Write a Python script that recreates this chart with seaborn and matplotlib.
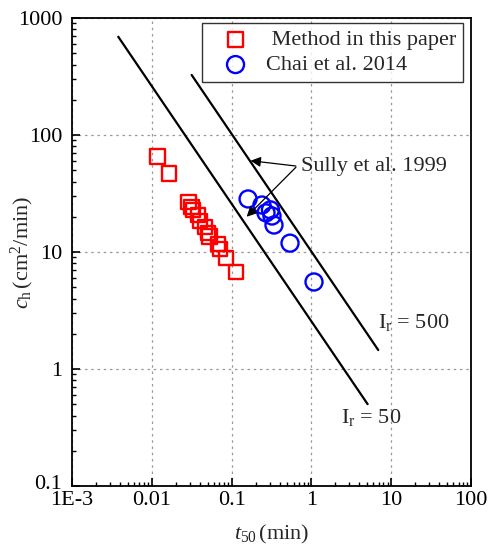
import matplotlib
matplotlib.use("Agg")
import matplotlib.pyplot as plt
import matplotlib.transforms as mtransforms
import seaborn as sns
import numpy as np
import pandas as pd
from matplotlib.ticker import FixedLocator, LogLocator, NullFormatter

# ---- data ----
method_t50 = [0.0117, 0.0164, 0.0288, 0.0314, 0.0328, 0.0379, 0.0402, 0.0464,
              0.0505, 0.0530, 0.0676, 0.0713, 0.0851, 0.1135]
method_ch = [65.3, 47.0, 26.7, 24.2, 22.9, 20.7, 18.4, 16.4,
             14.5, 13.6, 11.7, 10.6, 8.9, 6.75]
chai_t50 = [0.161, 0.240, 0.270, 0.307, 0.321, 0.340, 0.540, 1.079]
chai_ch = [28.4, 25.2, 21.6, 22.9, 20.3, 17.0, 11.9, 5.54]

sully50_t50 = [0.0038, 5.07]
sully50_ch = [692, 0.50]
sully500_t50 = [0.0316, 6.89]
sully500_ch = [326, 1.45]

xticks = [1e-3, 1e-2, 1e-1, 1, 10, 100]
xticklabels = ["1E-3", "0.01", "0.1", "1", "10", "100"]
yticks = [0.1, 1, 10, 100, 1000]
yticklabels = ["0.1", "1", "10", "100", "1000"]

FS = 16

# ---- style ----
sns.set_style("white")
plt.rcParams['font.family'] = ['Liberation Serif', 'DejaVu Serif']
plt.rcParams['mathtext.fontset'] = 'custom'
plt.rcParams['mathtext.rm'] = 'Liberation Serif'
plt.rcParams['mathtext.it'] = 'Liberation Serif:italic'
plt.rcParams['font.size'] = FS

fig = plt.figure(figsize=(4.94, 5.46), dpi=100)
ax = fig.add_axes([0.1457, 0.110, 0.8077, 0.857])

ax.set_xscale('log')
ax.set_yscale('log')
ax.set_xlim(1e-3, 100)
ax.set_ylim(0.1, 1000)

ax.grid(True, which='major', linestyle=(0, (2, 3)), color='#999999', linewidth=0.9)
ax.set_axisbelow(True)

df_m = pd.DataFrame({"t50": method_t50, "ch": method_ch})
df_c = pd.DataFrame({"t50": chai_t50, "ch": chai_ch})
df_l1 = pd.DataFrame({"t50": sully50_t50, "ch": sully50_ch})
df_l2 = pd.DataFrame({"t50": sully500_t50, "ch": sully500_ch})

sns.lineplot(data=df_l1, x="t50", y="ch", ax=ax, color='black', lw=1.6, legend=False)
sns.lineplot(data=df_l2, x="t50", y="ch", ax=ax, color='black', lw=1.6, legend=False)

sns.scatterplot(data=df_m, x="t50", y="ch", ax=ax, marker='s', s=110,
                facecolor='white', edgecolor='red', linewidth=1.7,
                label=' Method in this paper', zorder=3)
sns.scatterplot(data=df_c, x="t50", y="ch", ax=ax, marker='o', s=150,
                facecolor='white', edgecolor='blue', linewidth=1.7,
                label='Chai et al. 2014', zorder=3)
for coll in ax.collections:
    coll.set_facecolor('none')

# ticks
ax.xaxis.set_major_locator(FixedLocator(xticks))
ax.set_xticklabels(xticklabels)
ax.yaxis.set_major_locator(FixedLocator(yticks))
ax.set_yticklabels(yticklabels)
ax.xaxis.set_minor_locator(LogLocator(base=10, subs=np.arange(2, 10)))
ax.yaxis.set_minor_locator(LogLocator(base=10, subs=np.arange(2, 10)))
ax.xaxis.set_minor_formatter(NullFormatter())
ax.yaxis.set_minor_formatter(NullFormatter())
ax.tick_params(which='both', direction='in', top=False, right=False,
               bottom=True, left=True, colors='black', labelsize=FS)
ax.tick_params(which='major', length=6, width=1.2)
ax.tick_params(which='minor', length=3, width=1.0)
ax.tick_params(axis='x', which='major', pad=3.5)
ax.tick_params(axis='y', which='major', pad=7)

# lift the lowest y tick label slightly so it clears "1E-3"
lab0 = ax.get_yticklabels()[0]
lab0.set_transform(lab0.get_transform() +
                   mtransforms.ScaledTranslation(0, 4 / 100, fig.dpi_scale_trans))

for sp in ax.spines.values():
    sp.set_color('black')
    sp.set_linewidth(1.3)

ax.set_xlabel(r'$\it{t}_{\rm 50}\,$(min)', fontsize=FS)
ax.set_ylabel(r'$\it{c}_{\rm h}\,$(cm$^{2}$/min)', fontsize=FS)
ax.xaxis.set_label_coords(0.5, -0.079)
ax.yaxis.set_label_coords(-0.09, 0.5)

# annotations
ax.text(6.84, 2.52, r'$\rm I_r$ = 500', fontsize=FS, va='center', ha='left')
ax.text(2.35, 0.381, r'$\rm I_r$ = 50', fontsize=FS, va='center', ha='left')
ax.text(0.75, 54.3, 'Sully et al. 1999', fontsize=FS, va='center', ha='left')
ax.annotate('', xy=(0.173, 60.3), xytext=(0.64, 54.3),
            arrowprops=dict(arrowstyle='-|>', color='black', lw=0.9,
                            mutation_scale=15, shrinkA=0, shrinkB=0))
ax.annotate('', xy=(0.1545, 20.0), xytext=(0.64, 53.0),
            arrowprops=dict(arrowstyle='-|>', color='black', lw=0.9,
                            mutation_scale=15, shrinkA=0, shrinkB=0))

leg = ax.legend(loc='upper right', bbox_to_anchor=(0.98, 0.989), frameon=True,
                fancybox=False, edgecolor='black', fontsize=FS,
                handletextpad=0.15, borderpad=0.3, labelspacing=0.2,
                handlelength=2.45, borderaxespad=0.0)
leg.get_frame().set_linewidth(1.0)

fig.savefig('out.png', dpi=100)
